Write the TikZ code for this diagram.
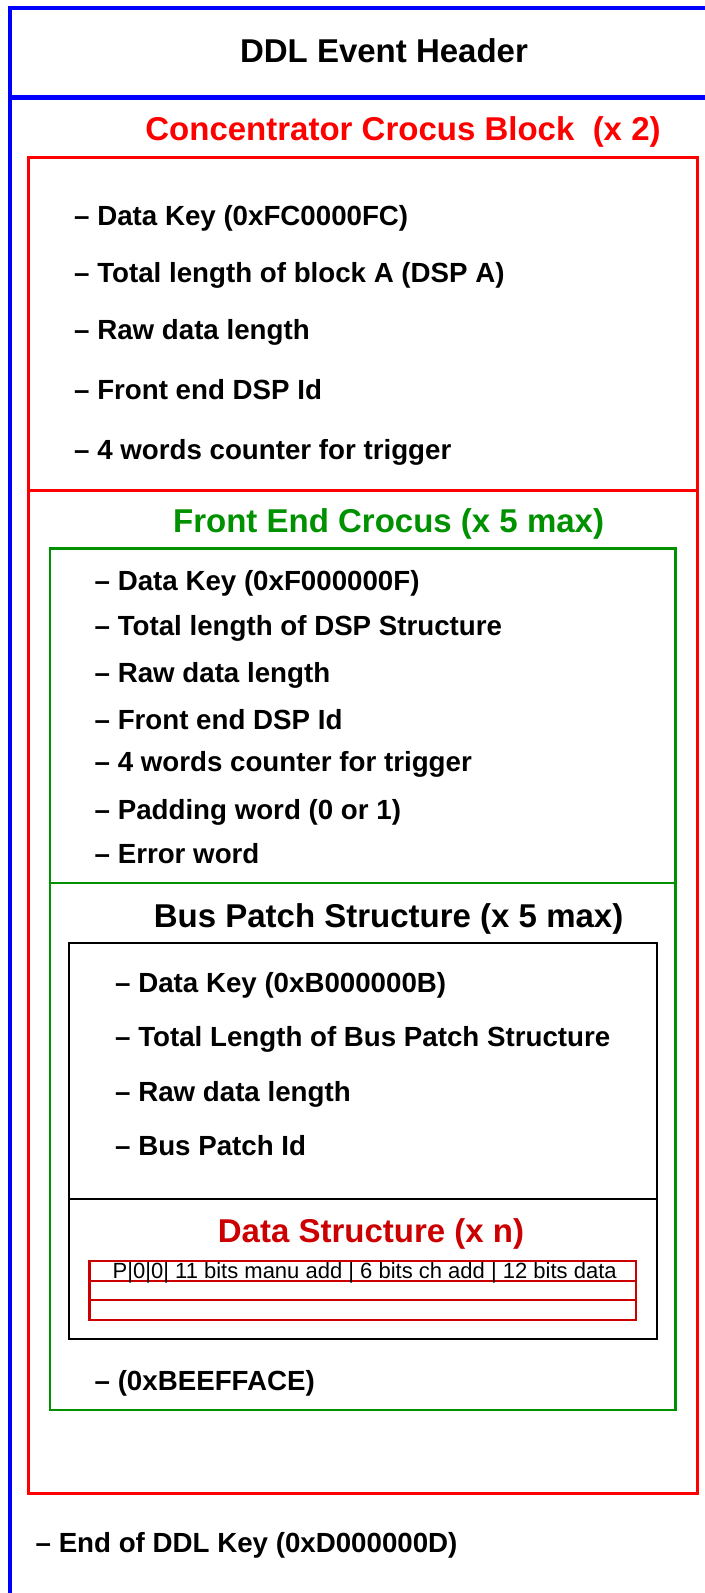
\documentclass[tikz,border=0pt]{standalone}
\usepackage{fontspec}
\setmainfont{Liberation Sans}
\definecolor{ddlblue}{RGB}{0,0,255}
\definecolor{crocred}{RGB}{255,0,0}
\definecolor{fegreen}{RGB}{0,145,0}
\definecolor{dsred}{RGB}{204,0,0}
\tikzset{
  item/.style={anchor=base west,inner sep=0pt,
    font=\fontsize{27.7bp}{33bp}\selectfont\bfseries},
  head/.style={anchor=base,inner sep=0pt,
    font=\fontsize{33bp}{40bp}\selectfont\bfseries},
}

\begin{document}
\begin{tikzpicture}[x=1bp,y=-1bp,
box/.style={draw=#1,line width=2.5bp},
word/.style={anchor=base,inner sep=0pt,
font=\fontsize{22bp}{26bp}\selectfont},
]
\useasboundingbox (0,0) rectangle (705,1593);
% DDL
\draw[ddlblue,line width=4.5bp] (705,8) -- (10,8) -- (10,1593);
\draw[ddlblue,line width=4.5bp] (10,97.5) -- (705,97.5);
\node (ddl) [head] at (384,63) {DDL Event Header};
% concentrator
\node (cc) [head,text=crocred] at (403,141) {Concentrator Crocus Block\ \ (x 2)};
\draw[box=crocred,line width=3bp] (28.5,157.5) rectangle (697,1493);
\draw[crocred,line width=3bp] (28.5,490.7) -- (697,490.7);
\node (cca) [item] at (74,225) {-- Data Key (0xFC0000FC)};
\node (ccb) [item] at (74,282) {-- Total length of block A (DSP A)};
\node (ccc) [item] at (74,339) {-- Raw data length};
\node (ccd) [item] at (74,399) {-- Front end DSP Id};
\node (cce) [item] at (74,459) {-- 4 words counter for trigger};
% front end
\node (fe) [head,text=fegreen] at (388.6,532) {Front End Crocus (x 5 max)};
\draw[box=fegreen] (50,548.6) rectangle (675.5,1410);
\draw[fegreen,line width=2.5bp] (50,883) -- (675.5,883);
\node (fea) [item] at (94.5,590) {-- Data Key (0xF000000F)};
\node (feb) [item] at (94.5,635) {-- Total length of DSP Structure};
\node (fec) [item] at (94.5,682) {-- Raw data length};
\node (fed) [item] at (94.5,729) {-- Front end DSP Id};
\node (fee) [item] at (94.5,771) {-- 4 words counter for trigger};
\node (fef) [item] at (94.5,819) {-- Padding word (0 or 1)};
\node (feg) [item] at (94.5,863) {-- Error word};
% bus patch
\node (bp) [head] at (388.6,927) {Bus Patch Structure (x 5 max)};
\draw[box=black] (69,943) rectangle (657,1339);
\draw[black,line width=2.5bp] (69,1199) -- (657,1199);
\node (bpa) [item] at (115,992) {-- Data Key (0xB000000B)};
\node (bpb) [item] at (115,1046) {-- Total Length of Bus Patch Structure};
\node (bpc) [item] at (115,1101) {-- Raw data length};
\node (bpd) [item] at (115,1155) {-- Bus Patch Id};
% data
\node (ds) [head,text=dsred] at (371,1242) {Data Structure (x n)};
\draw[box=dsred] (89.4,1261) rectangle (636,1320);
\draw[dsred,line width=2.5bp] (89.4,1281) -- (636,1281);
\draw[dsred,line width=2.5bp] (89.4,1300) -- (636,1300);
\node (dw) [word] at (364.7,1278) {P|0|0| 11 bits manu add | 6 bits ch add | 12 bits data};
\node (fend) [item] at (94.5,1390) {-- (0xBEEFFACE)};
\node (ddlend) [item] at (35.5,1552) {-- End of DDL Key (0xD000000D)};
\end{tikzpicture}
\end{document}
